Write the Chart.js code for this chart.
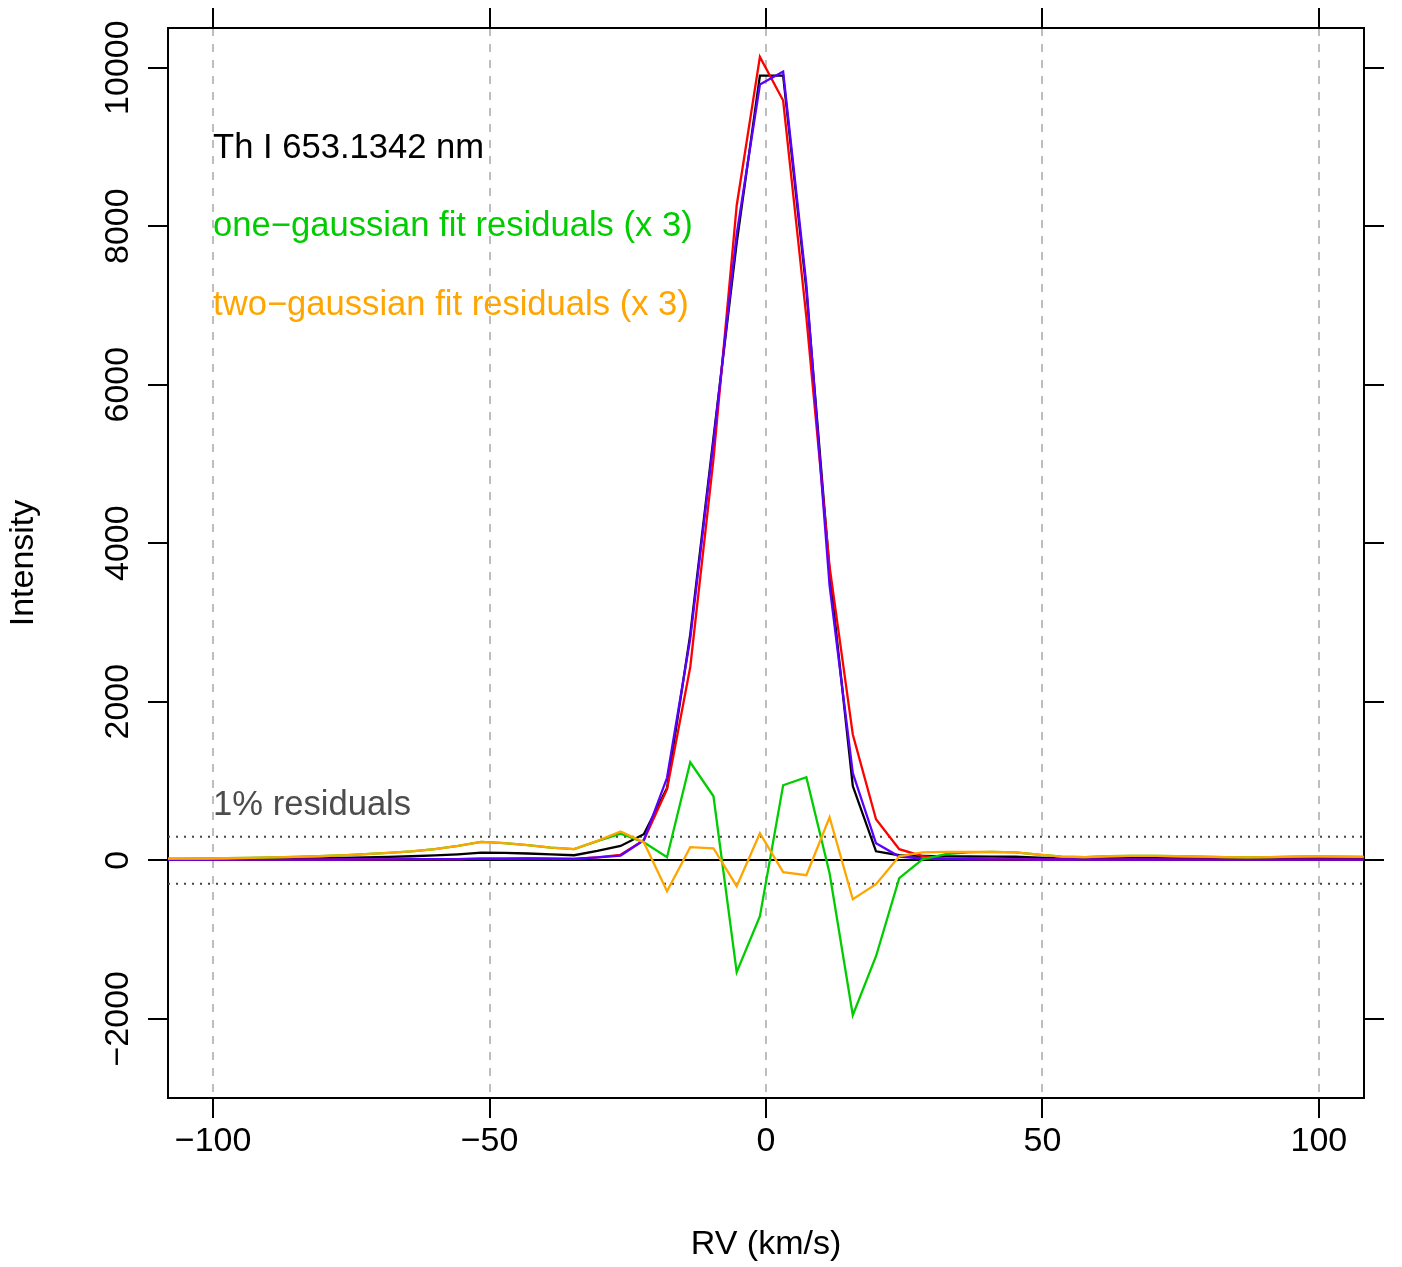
<!DOCTYPE html>
<html><head><meta charset="utf-8">
<script src="https://cdn.jsdelivr.net/npm/chart.js@4/dist/chart.umd.min.js"></script>
<style>html,body{margin:0;padding:0;background:#fff;}canvas{display:block;}</style>
</head><body>
<canvas id="c" width="1402" height="1267"></canvas>
<script>
// ---- data ----
const rv = [-110.3,-106.1,-101.9,-97.7,-93.5,-89.3,-85.1,-80.9,-76.7,-72.5,-68.3,-64.1,-59.9,-55.7,-51.5,-47.3,-43.1,-38.9,-34.7,-30.5,-26.3,-22.1,-17.9,-13.7,-9.5,-5.3,-1.1,3.1,7.3,11.5,15.7,19.9,24.1,28.3,32.5,36.7,40.9,45.1,49.3,53.5,57.7,61.9,66.1,70.3,74.5,78.7,82.9,87.1,91.3,95.5,99.7,103.9,108.1];
const intensity = [10,12,13,15,17,20,22,25,30,35,42,50,60,75,96,92,85,74,63,117,180,328,910,2850,5330,7790,9900,9900,7200,3650,935,113,63,55,48,47,46,44,32,24,22,25,27,27,25,23,20,19,20,22,23,22,21];
const fitOne = [4,5,6,7,7,8,8,8,9,10,11,13,13,15,19,20,22,21,17,37,68,252,897,2438,5061,8261,10135,9585,6851,3705,1587,517,139,52,23,14,11,11,9,9,9,8,9,9,8,8,7,7,7,7,7,7,7];
const fitTwo = [4,5,6,7,7,8,8,8,9,10,11,13,13,15,19,20,22,21,17,35,59,252,1040,2795,5280,7899,9787,9950,7263,3469,1099,214,46,22,13,12,11,11,9,9,9,8,9,9,8,8,7,7,7,7,7,7,7];
const residOne = [18,20,22,25,30,36,42,50,62,76,92,112,140,180,231,215,190,160,139,240,336,227,38,1236,807,-1412,-706,946,1047,-164,-1955,-1211,-227,10,76,100,105,100,70,45,40,50,55,55,50,45,38,35,38,45,48,45,42];
const residTwo = [18,20,22,25,30,36,42,50,62,76,92,112,140,180,231,215,190,160,139,245,362,227,-391,164,151,-328,340,-151,-189,542,-492,-303,50,100,105,105,105,100,70,45,40,50,55,55,50,45,38,35,38,45,48,45,42];
const xTicks = [-100,-50,0,50,100];
const yTicks = [-2000,0,2000,4000,6000,8000,10000];
const residualLevels = [297,-297];
const annotations = [
  {text:'Th I 653.1342 nm', color:'#000000', x:-100, y:8980},
  {text:'one\u2212gaussian fit residuals (x 3)', color:'#00cd00', x:-100, y:8000},
  {text:'two\u2212gaussian fit residuals (x 3)', color:'#ffa500', x:-100, y:7000},
  {text:'1% residuals', color:'#4d4d4d', x:-100, y:690}
];

// ---- styling ----
const FAMILY = '"Liberation Sans", Arial, Helvetica, sans-serif';
const FS = 34;
const ANN_FS = 34.6;
const X_MIN = -108.16, X_MAX = 108.16, Y_MIN = -3000, Y_MAX = 10500;
const fmt = v => (v < 0 ? '\u2212' + Math.abs(v) : String(v));
const pts = ys => rv.map((x, i) => ({x: x, y: ys[i]}));
const line = (label, ys, color) => ({label, data: pts(ys), borderColor: color, backgroundColor: color,
  borderWidth: 2.3, pointRadius: 0, showLine: true, tension: 0, fill: false});

const overlay = {
  id: 'overlay',
  beforeDatasetsDraw(chart) {
    const {ctx, chartArea: a, scales: {x, y}} = chart;
    ctx.save();
    ctx.beginPath(); ctx.rect(a.left, a.top, a.right - a.left, a.bottom - a.top); ctx.clip();
    ctx.strokeStyle = '#444'; ctx.lineWidth = 2; ctx.setLineDash([2, 6]);
    residualLevels.forEach(v => {
      const py = y.getPixelForValue(v);
      ctx.beginPath(); ctx.moveTo(a.left, py); ctx.lineTo(a.right, py); ctx.stroke();
    });
    ctx.restore();
  },
  afterDatasetsDraw(chart) {
    const {ctx, scales: {x, y}} = chart;
    ctx.save();
    ctx.font = ANN_FS + 'px ' + FAMILY;
    ctx.textAlign = 'left'; ctx.textBaseline = 'middle';
    annotations.forEach(t => {
      ctx.fillStyle = t.color;
      ctx.fillText(t.text, x.getPixelForValue(t.x), y.getPixelForValue(t.y));
    });
    ctx.restore();
  }
};

const font = {family: FAMILY, size: FS};
new Chart(document.getElementById('c'), {
  type: 'scatter',
  data: {datasets: [
    line('two-gaussian residuals x3', residTwo, '#ffa500'),
    line('one-gaussian residuals x3', residOne, '#00cd00'),
    line('two-gaussian fit', fitTwo, '#5a00ff'),
    line('one-gaussian fit', fitOne, '#ff0000'),
    line('data', intensity, '#000000')
  ]},
  options: {
    responsive: false, animation: false, devicePixelRatio: 1,
    layout: {padding: 0},
    plugins: {legend: {display: false}, tooltip: {enabled: false}},
    scales: {
      x: {type: 'linear', position: 'bottom', min: X_MIN, max: X_MAX,
        afterBuildTicks: s => { s.ticks = xTicks.map(v => ({value: v})); },
        afterFit: s => { s.height = 169; },
        ticks: {font, color: '#000', padding: 3.5, callback: fmt, minRotation: 0, maxRotation: 0, autoSkip: false},
        grid: {display: true, drawOnChartArea: true, color: '#bebebe', lineWidth: 2, drawTicks: true, tickLength: 20, tickColor: '#000', tickWidth: 2},
        border: {display: true, color: '#000', width: 2, dash: [8, 8]},
        title: {display: true, text: 'RV (km/s)', font, color: '#000', padding: {top: 0, bottom: 1.6}}
      },
      x2: {type: 'linear', position: 'top', min: X_MIN, max: X_MAX,
        afterBuildTicks: s => { s.ticks = xTicks.map(v => ({value: v})); },
        afterFit: s => { s.height = 28; },
        ticks: {display: false},
        grid: {display: true, drawOnChartArea: false, drawTicks: true, tickLength: 20, tickColor: '#000', tickWidth: 2, color: '#000', lineWidth: 2},
        border: {display: true, color: '#000', width: 2}
      },
      y: {type: 'linear', position: 'left', min: Y_MIN, max: Y_MAX,
        afterBuildTicks: s => { s.ticks = yTicks.map(v => ({value: v})); },
        afterFit: s => { s.width = 168; },
        ticks: {font, color: '#000', padding: -18.7, minRotation: 90, maxRotation: 90, crossAlign: 'center', callback: fmt, autoSkip: false},
        grid: {display: true, drawOnChartArea: true, color: c => (c.tick && c.tick.value === 0 ? '#000' : 'rgba(0,0,0,0)'), lineWidth: 2, drawTicks: true, tickLength: 20, tickColor: '#000', tickWidth: 2},
        border: {display: true, color: '#000', width: 2},
        title: {display: true, text: 'Intensity', font, color: '#000', padding: {top: 3.6, bottom: 0}}
      },
      y2: {type: 'linear', position: 'right', min: Y_MIN, max: Y_MAX,
        afterBuildTicks: s => { s.ticks = yTicks.map(v => ({value: v})); },
        afterFit: s => { s.width = 38; },
        ticks: {display: false},
        grid: {display: true, drawOnChartArea: false, drawTicks: true, tickLength: 20, tickColor: '#000', tickWidth: 2, color: '#000', lineWidth: 2},
        border: {display: true, color: '#000', width: 2}
      }
    }
  },
  plugins: [overlay]
});
</script>
</body></html>
